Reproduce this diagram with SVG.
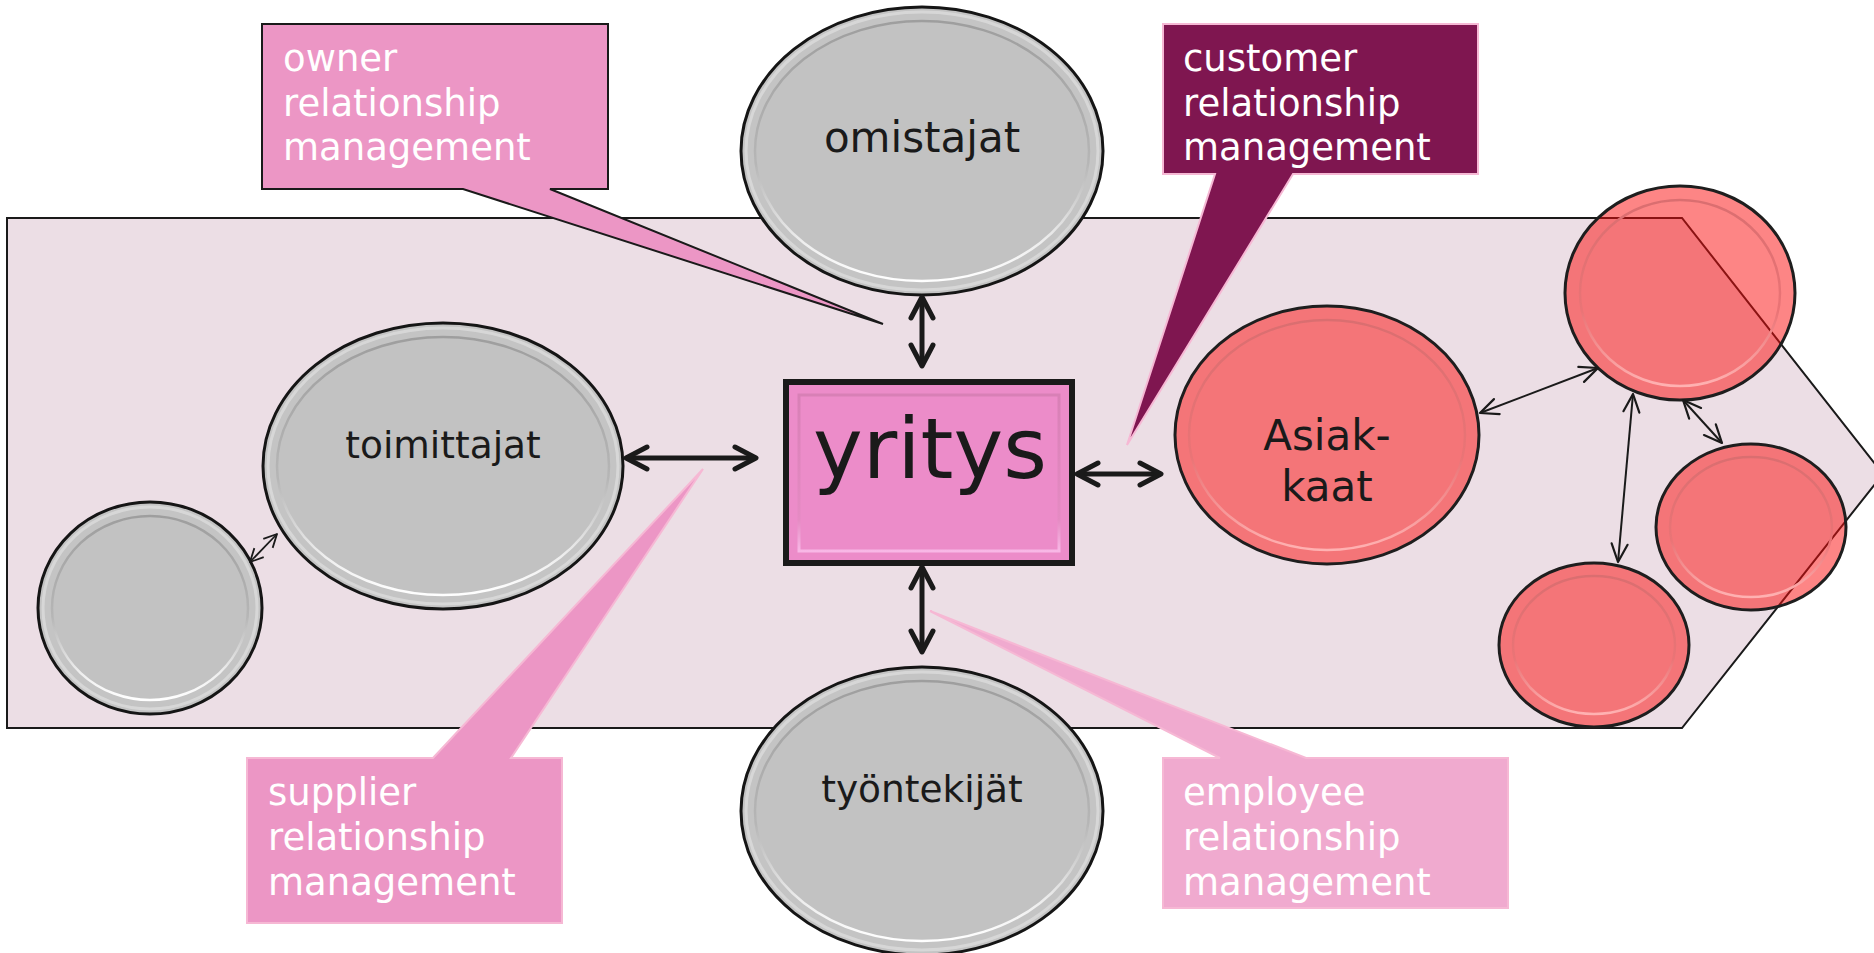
<svg xmlns="http://www.w3.org/2000/svg" width="1874" height="953" viewBox="0 0 1874 953">
<style>
  .ctext { font-family: "DejaVu Sans", Verdana, sans-serif; font-size: 37px; fill: #ffffff; }
  .lbl { font-family: "DejaVu Sans", Verdana, sans-serif; fill: #1a1a1a; text-anchor: middle; }
  .g-outer { fill: #c4c4c4; stroke: #151515; stroke-width: 3; }
  .g-rim { fill: none; stroke: #dcdcdc; stroke-width: 3; opacity: 0.8; }
  .g-inner { fill: #c2c2c2; stroke: url(#ringG); stroke-width: 2.5; }
  .r-outer { fill: #fb0b0b; fill-opacity: 0.5; stroke: #1e1e1e; stroke-width: 3; }
  .r-inner { fill: none; stroke: url(#ringR); stroke-width: 2.5; }
  .thick { fill: none; stroke: #1a1a1a; stroke-width: 5; marker-start: url(#hb); marker-end: url(#hb); }
  .thin { fill: none; stroke: #1a1a1a; stroke-width: 2; marker-start: url(#hs); marker-end: url(#hs); }
  .tiny { fill: none; stroke: #1a1a1a; stroke-width: 1.8; marker-start: url(#ht); marker-end: url(#ht); }
</style>
<defs>
  <linearGradient id="ringG" x1="0" y1="0" x2="0" y2="1">
    <stop offset="0" stop-color="#9e9e9e"/>
    <stop offset="0.55" stop-color="#b6b6b6"/>
    <stop offset="0.85" stop-color="#eeeeee"/>
    <stop offset="1" stop-color="#ffffff"/>
  </linearGradient>
  <linearGradient id="ringR" x1="0" y1="0" x2="0" y2="1">
    <stop offset="0" stop-color="#da6e70"/>
    <stop offset="0.6" stop-color="#ea7476"/>
    <stop offset="1" stop-color="#ffb2b2"/>
  </linearGradient>
  <linearGradient id="bevelY" x1="0" y1="0" x2="0" y2="1">
    <stop offset="0" stop-color="#d880b6"/>
    <stop offset="0.8" stop-color="#e58bc3"/>
    <stop offset="1" stop-color="#f8b8e6"/>
  </linearGradient>
  <marker id="hb" viewBox="-30 -20 40 40" markerWidth="40" markerHeight="40" refX="0" refY="0" orient="auto-start-reverse" markerUnits="userSpaceOnUse" overflow="visible">
    <path d="M-21,-11 L0,0 L-21,11" fill="none" stroke="#1a1a1a" stroke-width="5" stroke-linecap="round" stroke-linejoin="round"/>
  </marker>
  <marker id="hs" viewBox="-30 -20 40 40" markerWidth="40" markerHeight="40" refX="0" refY="0" orient="auto-start-reverse" markerUnits="userSpaceOnUse" overflow="visible">
    <path d="M-18,-8 L0,0 L-18,8" fill="none" stroke="#1a1a1a" stroke-width="2.2" stroke-linecap="round" stroke-linejoin="round"/>
  </marker>
  <marker id="ht" viewBox="-20 -20 40 40" markerWidth="40" markerHeight="40" refX="0" refY="0" orient="auto-start-reverse" markerUnits="userSpaceOnUse" overflow="visible">
    <path d="M-13,-6.5 L0,0 L-13,6.5" fill="none" stroke="#1a1a1a" stroke-width="1.8" stroke-linejoin="round"/>
  </marker>
</defs>

<rect width="1874" height="953" fill="#ffffff"/>

<g id="band">
  <polygon points="7,218 1682,218 1883,474 1682,728 7,728" fill="#ecdee5" stroke="#1a1a1a" stroke-width="2"/>
</g>

<g id="omistajat">
  <ellipse class="g-outer" cx="922" cy="151" rx="181" ry="144"/>
  <ellipse class="g-rim" cx="922" cy="151" rx="176" ry="139"/>
  <ellipse class="g-inner" cx="922" cy="151" rx="167" ry="130"/>
  <text class="lbl" x="922" y="152" font-size="42">omistajat</text>
</g>

<g id="toimittajat">
  <ellipse class="g-outer" cx="443" cy="466" rx="180" ry="143"/>
  <ellipse class="g-rim" cx="443" cy="466" rx="175" ry="138"/>
  <ellipse class="g-inner" cx="443" cy="466" rx="166" ry="129"/>
  <text class="lbl" x="443" y="458" font-size="37.5">toimittajat</text>
</g>

<g id="supplier-small">
  <ellipse class="g-outer" cx="150" cy="608" rx="112" ry="106"/>
  <ellipse class="g-rim" cx="150" cy="608" rx="107" ry="101"/>
  <ellipse class="g-inner" cx="150" cy="608" rx="98" ry="92"/>
</g>

<g id="tyontekijat">
  <ellipse class="g-outer" cx="922" cy="811" rx="181" ry="144"/>
  <ellipse class="g-rim" cx="922" cy="811" rx="176" ry="139"/>
  <ellipse class="g-inner" cx="922" cy="811" rx="167" ry="130"/>
  <text class="lbl" x="922" y="802" font-size="37.5">työntekijät</text>
</g>

<g id="asiakaat">
  <ellipse class="r-outer" cx="1327" cy="435" rx="152" ry="129"/>
  <ellipse class="r-inner" cx="1327" cy="435" rx="138" ry="115"/>
  <text class="lbl" x="1327" y="450" font-size="42">Asiak-</text>
  <text class="lbl" x="1327" y="501" font-size="42">kaat</text>
</g>

<g id="customer-top">
  <ellipse class="r-outer" cx="1680" cy="293" rx="115" ry="107"/>
  <ellipse class="r-inner" cx="1680" cy="293" rx="100" ry="93"/>
</g>

<g id="customer-right">
  <ellipse class="r-outer" cx="1751" cy="527" rx="95" ry="83"/>
  <ellipse class="r-inner" cx="1751" cy="527" rx="81" ry="70"/>
</g>

<g id="customer-bottom">
  <ellipse class="r-outer" cx="1594" cy="645" rx="95" ry="82"/>
  <ellipse class="r-inner" cx="1594" cy="645" rx="81" ry="69"/>
</g>

<g id="yritys">
  <rect x="786" y="382" width="286" height="181" fill="#ec8cc9" stroke="#1a1a1a" stroke-width="6"/>
  <rect x="799" y="395" width="260" height="156" fill="#ec8cc9" stroke="url(#bevelY)" stroke-width="3"/>
  <text class="lbl" x="930" y="478" font-size="84">yritys</text>
</g>

<g id="connectors">
  <line class="thick" x1="922" y1="297" x2="922" y2="366"/>
  <line class="thick" x1="626" y1="458" x2="756" y2="458"/>
  <line class="thick" x1="1077" y1="474" x2="1161" y2="474"/>
  <line class="thick" x1="922" y1="567" x2="922" y2="652"/>
  <line class="thin" x1="1480" y1="413" x2="1598" y2="368"/>
  <line class="thin" x1="1633" y1="394" x2="1618" y2="562"/>
  <line class="thin" x1="1683" y1="400" x2="1722" y2="443"/>
  <line class="tiny" x1="250" y1="562" x2="277" y2="534"/>
</g>

<g id="callout-owner">
  <path d="M262,24 H608 V189 H550 L883,324 L463,189 H262 Z" fill="#ec96c5" stroke="#1a1a1a" stroke-width="2" stroke-linejoin="miter"/>
  <text class="ctext" x="283" y="71">owner</text>
  <text class="ctext" x="283" y="116">relationship</text>
  <text class="ctext" x="283" y="160">management</text>
</g>

<g id="callout-customer">
  <path d="M1163,24 H1478 V174 H1293 L1127,445 L1215,174 H1163 Z" fill="#7f1650" stroke="#f6b8d4" stroke-width="2"/>
  <text class="ctext" x="1183" y="71">customer</text>
  <text class="ctext" x="1183" y="116">relationship</text>
  <text class="ctext" x="1183" y="160">management</text>
</g>

<g id="callout-supplier">
  <path d="M247,758 H433 L703,469 L511,758 H562 V923 H247 Z" fill="#ec96c5" stroke="#f6b8d4" stroke-width="2"/>
  <text class="ctext" x="268" y="805">supplier</text>
  <text class="ctext" x="268" y="850">relationship</text>
  <text class="ctext" x="268" y="895">management</text>
</g>

<g id="callout-employee">
  <path d="M1163,758 H1220 L930,611 L1306,758 H1508 V908 H1163 Z" fill="#f0aacf" stroke="#f6b8d4" stroke-width="2"/>
  <text class="ctext" x="1183" y="805">employee</text>
  <text class="ctext" x="1183" y="850">relationship</text>
  <text class="ctext" x="1183" y="895">management</text>
</g>
</svg>
